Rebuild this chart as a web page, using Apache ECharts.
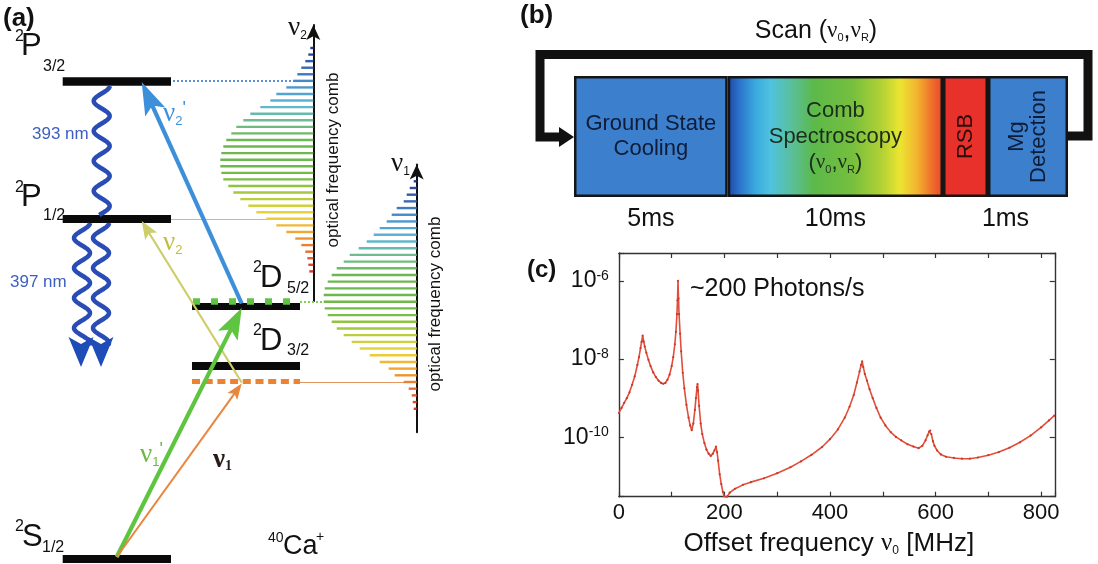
<!DOCTYPE html>
<html>
<head>
<meta charset="utf-8">
<title>Comb spectroscopy of 40Ca+</title>
<script src="https://cdn.jsdelivr.net/npm/echarts@6.0.0/dist/echarts.min.js"></script>
<style>
  html, body { margin: 0; padding: 0; background: #fff; }
  #main { width: 1098px; height: 564px; }
</style>
</head>
<body>
<div id="main"></div>
<script>
const SANS = '"Liberation Sans", Arial, sans-serif'
const SERIF = '"Liberation Serif", "DejaVu Serif", serif'

// ---------- data ----------
// (c) excitation signal vs. comb offset frequency
const offsetFreq = [0, 5, 10, 15, 20, 25, 30, 35, 38, 41, 43, 45, 47, 49, 52, 56, 60, 65, 70, 75, 80, 84, 88, 92, 96,
  100, 103, 106, 108, 110, 111, 112, 113, 114, 116, 118, 121, 124, 128, 132, 135, 138, 141, 144, 146, 148, 149, 150,
  152, 155, 158, 162, 166, 170, 174, 178, 181, 184, 186, 188, 191, 194, 197, 200, 202, 205, 210, 220, 235, 250,
  275, 300, 325, 345, 365, 385, 400, 415, 428, 437, 445, 451, 456, 459, 461, 463, 466, 470, 475, 481,
  488, 496, 505, 515, 525, 535, 547, 558, 568, 575, 581, 585, 588, 590, 592, 595, 598, 603, 610, 620,
  635, 650, 665, 680, 700, 720, 740, 760, 780, 800, 815, 825]
const photonSignal = [4.17e-10, 5.62e-10, 7.59e-10, 1.00e-9, 1.41e-9, 2.19e-9, 3.63e-9, 7.08e-9,
  1.12e-8, 1.91e-8, 2.75e-8, 3.98e-8, 2.82e-8, 2.09e-8,
  1.45e-8, 9.55e-9, 6.61e-9, 4.57e-9, 3.47e-9, 2.82e-9, 2.45e-9, 2.34e-9, 2.45e-9, 2.95e-9, 3.98e-9,
  6.61e-9, 1.12e-8, 2.40e-8, 5.01e-8, 1.41e-7, 3.16e-7, 1.00e-6, 3.55e-7, 1.41e-7, 4.47e-8, 1.58e-8,
  4.47e-9, 1.78e-9, 6.76e-10, 3.16e-10, 2.00e-10, 1.51e-10, 2.24e-10, 5.01e-10, 1.00e-9, 1.91e-9, 2.29e-9, 1.58e-9,
  6.31e-10, 2.24e-10, 1.20e-10, 7.08e-11, 4.79e-11, 3.80e-11, 3.31e-11, 3.80e-11, 4.57e-11, 5.75e-11, 4.17e-11, 2.51e-11,
  1.12e-11, 6.31e-12, 3.98e-12, 2.82e-12, 2.51e-12, 3.02e-12, 3.80e-12, 4.79e-12, 6.03e-12, 7.08e-12,
  8.91e-12, 1.20e-11, 1.70e-11, 2.40e-11, 3.55e-11, 5.62e-11, 8.91e-11, 1.58e-10, 3.16e-10, 6.03e-10,
  1.20e-9, 2.51e-9, 4.79e-9, 7.08e-9, 8.71e-9, 6.31e-9, 4.17e-9, 2.82e-9, 1.70e-9, 1.00e-9,
  5.62e-10, 3.16e-10, 2.00e-10, 1.35e-10, 1.02e-10, 8.32e-11, 6.61e-11, 5.75e-11, 5.25e-11, 6.03e-11,
  8.32e-11, 1.12e-10, 1.41e-10, 1.48e-10, 1.20e-10, 7.94e-11, 6.03e-11, 4.57e-11, 3.63e-11, 3.16e-11,
  2.95e-11, 2.82e-11, 2.82e-11, 3.02e-11, 3.47e-11, 4.17e-11, 5.37e-11, 7.41e-11, 1.10e-10, 1.78e-10,
  2.69e-10, 3.55e-10]
const freqLabels = [0, 200, 400, 600, 800]
const signalExps = [-10, -8, -6]

// (a) optical frequency comb teeth, lowest frequency first
const combNu2Teeth = [4, 5, 6, 8, 12, 18, 27, 37, 47, 57, 65, 73, 80, 85, 90, 92, 93, 93, 92, 90,
  87, 82, 77, 70, 63, 53, 43, 37, 27, 20, 16, 12, 8, 5, 3]
const combNu1Teeth = [3, 4, 5, 8, 13, 22, 28, 37, 47, 57, 65, 73, 80, 85, 89, 92, 93, 93, 92, 89,
  85, 80, 73, 67, 58, 50, 43, 37, 30, 25, 20, 13, 10, 7, 3]

// (b) experimental sequence
const stageNames = ['Ground State\nCooling', 'Comb\nSpectroscopy', 'RSB', 'Mg\nDetection']
const stageDurations = ['5ms', '10ms', '1ms']

// ---------- layout ----------
const specGrid = { left: 618.9, top: 253, width: 435.9, height: 243.7 }
const seqGrid = { left: 574, top: 76, width: 494, height: 121 }
const blockWidths = [153.7, 215.3, 45, 80]
const durationSpans = [[0, 0], [1, 1], [2, 3]]
const combs = [
  { teeth: combNu2Teeth, axisX: 313.3, topY: 48, step: 6.57, padTop: 3, padBottom: 4 },
  { teeth: combNu1Teeth, axisX: 416.7, topY: 181.3, step: 6.69, padTop: 2, padBottom: 3 }
]
const combStops = ['#e0342a', '#ea6a30', '#f0a030', '#eed43a', '#b4cc3c', '#78bc44', '#6cb84c',
  '#6cb84c', '#70bc8c', '#5cb8d4', '#4a94d0', '#3466b8', '#243c98']

function lerpColor(stops, f) {
  const p = Math.max(0, Math.min(1, f)) * (stops.length - 1)
  const i = Math.min(Math.floor(p), stops.length - 2)
  const t = p - i
  const a = parseInt(stops[i].slice(1), 16), b = parseInt(stops[i + 1].slice(1), 16)
  const mix = s => { const u = (a >> s) & 255, v = (b >> s) & 255; return Math.round(u + (v - u) * t) }
  return 'rgb(' + mix(16) + ',' + mix(8) + ',' + mix(0) + ')'
}

const levelBars = [
  { y: 81, x: [62.7, 171], w: 8.7 },   // 2P3/2
  { y: 219, x: [62.7, 171], w: 8 },    // 2P1/2
  { y: 306, x: [192, 300], w: 7 },     // 2D5/2
  { y: 366, x: [192, 300], w: 8 },     // 2D3/2
  { y: 559, x: [62.7, 171], w: 8 }     // 2S1/2
]
const guideLines = [
  { c: [[192, 381.7], [300, 381.7]], color: '#ec8234', width: 5, type: [8, 4.7] },
  { c: [[193, 301.5], [300, 301.5]], color: '#5ec442', width: 6.5, type: [7, 11] },
  { c: [[173, 81], [300, 81]], color: '#5b92d6', width: 2, type: [2, 2] },
  { c: [[171, 219], [312, 219]], color: '#c9b98c', width: 1.2, type: 'solid' },
  { c: [[300, 301.7], [325, 301.7]], color: '#7fcf55', width: 2, type: [2, 2] },
  { c: [[300, 382], [416, 382]], color: '#e49662', width: 1.2, type: 'solid' }
]
const transitions = [
  { from: [241.7, 303.5], to: [141.7, 82], color: '#3d8fd9', width: 4.2, headW: 22, headL: 33 },   // nu2'
  { from: [241.7, 382.5], to: [141.7, 221], color: '#cdcd6a', width: 2.2, headW: 14, headL: 18 },   // nu2
  { from: [116.7, 557], to: [241.7, 308], color: '#5fc43f', width: 4.2, headW: 22, headL: 31 },     // nu1'
  { from: [116.7, 557], to: [241.7, 383.5], color: '#ea853d', width: 2, headW: 12, headL: 16 }      // nu1
]

const xAxis = [], yAxis = [], grid = [], series = []

// grid 0 : level scheme of panel (a), one unit per pixel
grid.push({ left: 0, top: 0, width: 500, height: 564 })
xAxis.push({ gridIndex: 0, type: 'value', min: 0, max: 500, show: false })
yAxis.push({ gridIndex: 0, type: 'value', min: 0, max: 564, inverse: true, show: false })

series.push({
  type: 'lines', coordinateSystem: 'cartesian2d', xAxisIndex: 0, yAxisIndex: 0, silent: true, z: 2,
  data: levelBars.map(l => ({ coords: [[l.x[0], l.y], [l.x[1], l.y]], lineStyle: { color: '#0a0a0a', width: l.w, opacity: 1 } }))
})
series.push({
  type: 'lines', coordinateSystem: 'cartesian2d', xAxisIndex: 0, yAxisIndex: 0, silent: true, z: 3,
  data: guideLines.map(g => ({ coords: g.c, lineStyle: { color: g.color, width: g.width, type: g.type, opacity: 1 } }))
})
const arrowHeads = []
transitions.forEach(t => {
  const dx = t.to[0] - t.from[0], dy = t.to[1] - t.from[1], L = Math.hypot(dx, dy)
  const ux = dx / L, uy = dy / L, nx = -uy, ny = ux
  const at = d => [t.to[0] - ux * d, t.to[1] - uy * d]
  const back = at(t.headL), notch = at(t.headL * 0.78)
  series.push({
    type: 'lines', coordinateSystem: 'cartesian2d', xAxisIndex: 0, yAxisIndex: 0, silent: true, z: 4,
    lineStyle: { color: t.color, width: t.width, opacity: 1 },
    data: [{ coords: [t.from, at(t.headL * 0.7)] }]
  })
  arrowHeads.push({
    type: 'polygon', z: 7, silent: true, style: { fill: t.color },
    shape: { points: [t.to, [back[0] + nx * t.headW / 2, back[1] + ny * t.headW / 2], notch,
      [back[0] - nx * t.headW / 2, back[1] - ny * t.headW / 2]] }
  })
})

// grids 1, 2 : frequency combs
combs.forEach((c, k) => {
  const gi = k + 1
  const n = c.teeth.length + c.padTop + c.padBottom
  grid.push({ left: c.axisX - 100, width: 100, top: c.topY - (c.padTop + 0.5) * c.step, height: n * c.step })
  xAxis.push({ gridIndex: gi, type: 'value', min: 0, max: 100, inverse: true, show: false })
  yAxis.push({
    gridIndex: gi, type: 'category', position: 'right', data: Array.from({ length: n }, (_, i) => 'f' + i),
    axisLine: { show: true, onZero: false, symbol: ['none', 'arrow'], symbolSize: [10.5, 15], lineStyle: { color: '#111', width: 2 } },
    axisTick: { show: false }, axisLabel: { show: false }, splitLine: { show: false }
  })
  const pad = m => Array(m).fill('-')
  series.push({
    type: 'bar', xAxisIndex: gi, yAxisIndex: gi, barWidth: 2.4, silent: true, z: 3,
    data: [...pad(c.padBottom), ...c.teeth, ...pad(c.padTop)],
    itemStyle: { color: p => lerpColor(combStops, (p.dataIndex - c.padBottom) / (c.teeth.length - 1)) }
  })
})

// grid 3 : sequence of panel (b)
grid.push(seqGrid)
xAxis.push({ gridIndex: 3, type: 'value', min: 0, max: blockWidths.reduce((a, b) => a + b, 0), show: false })
yAxis.push({ gridIndex: 3, type: 'category', data: ['cycle'], show: false })
const combGradient = new echarts.graphic.LinearGradient(0, 0, 1, 0, [
  { offset: 0, color: '#1b47a0' }, { offset: 0.05, color: '#2b6fc9' }, { offset: 0.13, color: '#3aaade' },
  { offset: 0.2, color: '#4fc3df' }, { offset: 0.3, color: '#5abf9a' }, { offset: 0.4, color: '#5cb94a' },
  { offset: 0.58, color: '#76bf3e' }, { offset: 0.72, color: '#b4d234' }, { offset: 0.8, color: '#ece531' },
  { offset: 0.88, color: '#f3b330' }, { offset: 0.95, color: '#ef6e2b' }, { offset: 1, color: '#e84428' }
])
const stageColors = ['#3c7fcd', combGradient, '#e8312b', '#3c7fcd']
const stageText = ['#0f1c38', '#1b2e1b', '#2a0a0a', '#0f1c38']
const nuRich = {
  n: { fontFamily: SERIF, fontSize: 21, color: '#1b2e1b' },
  s: { fontFamily: SANS, fontSize: 11, color: '#1b2e1b', verticalAlign: 'bottom', padding: [8, 0, 0, 0] },
  p: { fontFamily: SANS, fontSize: 22, color: '#1b2e1b' }
}
stageNames.forEach((name, i) => {
  let text = name
  if (i === 1) text = name + '\n{p|(}{n|ν}{s|0}{p|,}{n|ν}{s|R}{p|)}'
  series.push({
    type: 'bar', xAxisIndex: 3, yAxisIndex: 3, stack: 'seq', barWidth: seqGrid.height, silent: true,
    data: [blockWidths[i]],
    itemStyle: { color: stageColors[i], borderColor: '#151515', borderWidth: 2.5 },
    label: {
      show: true, position: 'inside', formatter: text, rotate: i >= 2 ? 90 : 0,
      fontFamily: SANS, fontSize: 22, lineHeight: i === 3 ? 22 : (i === 1 ? 26 : 25), color: stageText[i],
      rich: nuRich
    }
  })
})

// grid 4 : spectrum of panel (c)
grid.push(specGrid)
const frame = { show: true, onZero: false, lineStyle: { color: '#333', width: 1.4 } }
const inTick = { show: true, inside: true, length: 5, lineStyle: { color: '#333', width: 1.2 } }
xAxis.push({
  gridIndex: 4, type: 'value', position: 'bottom', min: 0, max: 826, interval: 100,
  axisLine: frame, axisTick: inTick, splitLine: { show: false },
  axisLabel: {
    margin: 5, fontFamily: SANS, fontSize: 22, color: '#111',
    formatter: v => freqLabels.includes(v) ? String(v) : ''
  },
  name: 'Offset frequency {nu|ν}{sub|0} [MHz]', nameLocation: 'middle', nameGap: 34,
  nameTextStyle: {
    fontFamily: SANS, fontSize: 26, color: '#111', padding: [0, 16, 0, 0],
    rich: {
      nu: { fontFamily: SERIF, fontSize: 25, color: '#111' },
      sub: { fontFamily: SANS, fontSize: 12, color: '#111', verticalAlign: 'bottom', padding: [12, 0, 0, 0] }
    }
  }
})
xAxis.push({
  gridIndex: 4, type: 'value', position: 'top', min: 0, max: 826, interval: 100,
  axisLine: frame, axisTick: inTick, axisLabel: { show: false }, splitLine: { show: false }
})
const expLabel = v => {
  const e = Math.log10(v), r = Math.round(e)
  return Math.abs(e - r) < 0.01 && signalExps.includes(r) ? '{b|10}{s|' + r + '}' : ''
}
yAxis.push({
  gridIndex: 4, type: 'log', logBase: 100, position: 'left', min: 3.0e-12, max: 5.2e-6,
  axisLine: frame, axisTick: inTick, splitLine: { show: false },
  axisLabel: {
    margin: 10, formatter: expLabel,
    rich: {
      b: { fontFamily: SANS, fontSize: 23, color: '#111' },
      s: { fontFamily: SANS, fontSize: 14, color: '#111', verticalAlign: 'top', padding: [0, 0, 10, 0] }
    }
  }
})
yAxis.push({
  gridIndex: 4, type: 'log', logBase: 100, position: 'right', min: 3.0e-12, max: 5.2e-6,
  axisLine: frame, axisTick: inTick, axisLabel: { show: false }, splitLine: { show: false }
})
series.push({
  type: 'line', xAxisIndex: 4, yAxisIndex: 4, clip: true, silent: true, z: 5,
  data: offsetFreq.map((f, i) => [f, photonSignal[i]]),
  showSymbol: true, symbol: 'circle', symbolSize: 2.2,
  itemStyle: { color: '#c7392b' },
  lineStyle: { color: '#e24e3a', width: 1.6 }
})

// ---------- annotations ----------
function txt(x, y, text, o) {
  return {
    type: 'text', x: x, y: y, z: 100, silent: true, rotation: (o && o.rotation) || 0,
    style: Object.assign({ text: text, fill: '#111', fontFamily: SANS, fontSize: 22, align: 'left', verticalAlign: 'middle' }, o && o.style)
  }
}
function wavePoints(cx, y0, y1, amp, period, phase) {
  const pts = []
  for (let y = y0; y <= y1; y += 1) pts.push([cx + amp * Math.sin((y - y0) / period * 2 * Math.PI + phase), y])
  return pts
}
const waveBlue = '#2a4db5'
const wave = pts => ({ type: 'polyline', z: 6, silent: true, shape: { points: pts }, style: { stroke: waveBlue, lineWidth: 4.5, fill: null } })
const waveHead = (cx, tip) => ({
  type: 'polygon', z: 6, silent: true,
  shape: { points: [[cx, tip], [cx - 12.5, tip - 30], [cx, tip - 23], [cx + 12.5, tip - 30]] },
  style: { fill: '#1f4db8' }
})

const main = { fontSize: 31 }, small = { fontSize: 16 }
const elements = [
  txt(3, 19, '(a)', { style: { fontWeight: 'bold', fontSize: 26 } }),
  txt(520, 16, '(b)', { style: { fontWeight: 'bold', fontSize: 26 } }),
  txt(527, 270, '(c)', { style: { fontWeight: 'bold', fontSize: 24 } }),
  // level labels
  txt(15, 37, '2', { style: small }), txt(21, 46, 'P', { style: main }), txt(43, 67, '3/2', { style: small }),
  txt(15, 188, '2', { style: small }), txt(21, 197, 'P', { style: main }), txt(43, 216, '1/2', { style: small }),
  txt(253, 268, '2', { style: small }), txt(260, 278, 'D', { style: main }), txt(287, 289, '5/2', { style: small }),
  txt(253, 331, '2', { style: small }), txt(260, 341, 'D', { style: main }), txt(287, 351, '3/2', { style: small }),
  txt(15, 527, '2', { style: small }), txt(22, 537, 'S', { style: main }), txt(42, 548, '1/2', { style: small }),
  txt(268, 538, '40', { style: { fontSize: 14 } }), txt(283, 547, 'Ca', { style: { fontSize: 27 } }), txt(316, 537, '+', { style: { fontSize: 14 } }),
  txt(32, 134, '393 nm', { style: { fontSize: 17, fill: '#3d5fbf' } }),
  txt(10, 282, '397 nm', { style: { fontSize: 17, fill: '#3d5fbf' } }),
  // transition labels
  txt(163, 114, '{n|ν}{s|2}{p|\'}', { style: { rich: {
    n: { fontFamily: SERIF, fontSize: 27, fill: '#3d8fd9' }, s: { fontSize: 13, fill: '#3d8fd9', verticalAlign: 'bottom', padding: [10, 0, 0, 0] },
    p: { fontSize: 18, fill: '#3d8fd9', verticalAlign: 'top' } } } }),
  txt(163, 243, '{n|ν}{s|2}', { style: { rich: {
    n: { fontFamily: SERIF, fontSize: 27, fill: '#c2bd3e' }, s: { fontSize: 13, fill: '#c2bd3e', verticalAlign: 'bottom', padding: [10, 0, 0, 0] } } } }),
  txt(140, 455, '{n|ν}{s|1}{p|\'}', { style: { rich: {
    n: { fontFamily: SERIF, fontSize: 27, fill: '#6cb840' }, s: { fontSize: 13, fill: '#6cb840', verticalAlign: 'bottom', padding: [10, 0, 0, 0] },
    p: { fontSize: 18, fill: '#6cb840', verticalAlign: 'top' } } } }),
  txt(213, 460, '{n|ν}{s|1}', { style: { rich: {
    n: { fontFamily: SERIF, fontSize: 27, fontWeight: 'bold', fill: '#2a1a1a' }, s: { fontFamily: SERIF, fontWeight: 'bold', fontSize: 14, fill: '#2a1a1a', verticalAlign: 'bottom', padding: [10, 0, 0, 0] } } } }),
  // comb labels
  txt(288, 28, '{n|ν}{s|2}', { style: { rich: {
    n: { fontFamily: SERIF, fontSize: 27, fill: '#111' }, s: { fontSize: 12, fill: '#111', verticalAlign: 'bottom', padding: [10, 0, 0, 0] } } } }),
  txt(391, 164, '{n|ν}{s|1}', { style: { rich: {
    n: { fontFamily: SERIF, fontSize: 27, fill: '#111' }, s: { fontSize: 12, fill: '#111', verticalAlign: 'bottom', padding: [10, 0, 0, 0] } } } }),
  txt(333, 160, 'optical frequency comb', { rotation: Math.PI / 2, style: { fontSize: 17, align: 'center' } }),
  txt(435, 304, 'optical frequency comb', { rotation: Math.PI / 2, style: { fontSize: 17, align: 'center' } }),
  // panel b
  txt(816, 31, '{t|Scan (}{n|ν}{s|0}{t|,}{n|ν}{s|R}{t|)}', { style: { align: 'center', rich: {
    t: { fontFamily: SANS, fontSize: 25, fill: '#111' }, n: { fontFamily: SERIF, fontSize: 23, fill: '#111' },
    s: { fontSize: 11, fill: '#111', verticalAlign: 'bottom', padding: [10, 0, 0, 0] } } } }),
  // panel c
  txt(690, 289, '~200 Photons/s', { style: { fontSize: 25 } }),
  // decay waves
  wave(wavePoints(101.7, 86, 215, 8, 30, Math.PI / 2)),
  wave(wavePoints(82, 223, 345, 8, 30, Math.PI / 2)),
  wave(wavePoints(101, 223, 345, 8, 30, Math.PI / 2)),
  waveHead(81, 367), waveHead(101, 367),
  // scan loop
  { type: 'polyline', z: 6, silent: true, shape: { points: [[1068, 136], [1088, 136], [1088, 54.5], [540, 54.5], [540, 137], [562, 137]] },
    style: { stroke: '#111', lineWidth: 9, fill: null, lineJoin: 'miter' } },
  { type: 'polygon', z: 6, silent: true, shape: { points: [[559, 127], [574, 137], [559, 147]] }, style: { fill: '#111' } },
  ...arrowHeads
]
// durations below the sequence
const acc = [0]
blockWidths.forEach(w => acc.push(acc[acc.length - 1] + w))
stageDurations.forEach((d, i) => {
  const [a, b] = durationSpans[i]
  const cx = seqGrid.left + (acc[a] + acc[b + 1]) / 2
  elements.push(txt(cx, 219, d, { style: { fontSize: 25, align: 'center' } }))
})

const chart = echarts.init(document.getElementById('main'))
chart.setOption({
  animation: false,
  backgroundColor: '#fff',
  grid: grid,
  xAxis: xAxis,
  yAxis: yAxis,
  series: series,
  graphic: { elements: elements }
})
</script>
</body>
</html>
